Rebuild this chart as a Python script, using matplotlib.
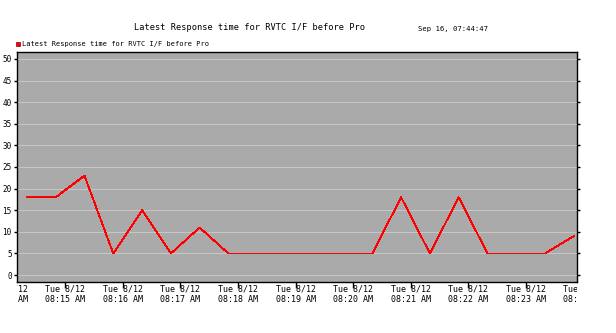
import numpy as np
import pandas as pd
import matplotlib
matplotlib.use("Agg")
import matplotlib.pyplot as plt
import matplotlib.dates as mdates
from matplotlib.patches import Patch
from matplotlib.transforms import Bbox, TransformedBbox


title = "Latest Response time for RVTC I/F before Pro"
stamp = "Sep 16, 07:44:47"
series_name = "Latest Response time for RVTC I/F before Pro"

times = ["08:14:20", "08:14:50", "08:15:20", "08:15:50", "08:16:20",
         "08:16:50", "08:17:20", "08:17:50", "08:18:20", "08:18:50",
         "08:19:20", "08:19:50", "08:20:20", "08:20:50", "08:21:20",
         "08:21:50", "08:22:20", "08:22:50", "08:23:20", "08:23:50"]
values = [18, 18, 23, 5, 15, 5, 11, 5, 5, 5,
          5, 5, 5, 18, 5, 18, 5, 5, 5, 9]

tick_times = ["08:14", "08:15", "08:16", "08:17", "08:18", "08:19",
              "08:20", "08:21", "08:22", "08:23", "08:24"]
tick_labels = ["Tue 8/12\n%s AM" % t for t in tick_times]
yticks = [0, 5, 10, 15, 20, 25, 30, 35, 40, 45, 50]

day = "2014-08-12 "
x = pd.to_datetime([day + t for t in times])
xt = pd.to_datetime([day + t for t in tick_times])

mono = "DejaVu Sans Mono"

fig = plt.figure(figsize=(6.16, 3.33), dpi=100)
left, right = 17.3 / 616, 576.7 / 616
bottom, top = 1 - 282 / 333, 1 - 52 / 333
ax = fig.add_axes([left, bottom, right - left, top - bottom])
ax.set_facecolor("#aaaaaa")

ax.plot(x, values, color="#ff0000", lw=0.6, antialiased=False)

ax.set_xlim(pd.Timestamp(day + "08:14:10"), pd.Timestamp(day + "08:23:53"))
ax.set_ylim(-1.6, 51.6)

ax.set_yticks(yticks)
ax.yaxis.grid(True, color="#cccccc", lw=0.6)
ax.set_axisbelow(True)
ax.tick_params(axis="y", which="both", left=True, right=True, direction="out",
               length=2.5, width=1, pad=1.5, labelsize=5.5, labelfontfamily=mono)

inside = [t for t in xt if ax.get_xlim()[0] <= mdates.date2num(t) <= ax.get_xlim()[1]]
ax.set_xticks(inside)
ax.tick_params(axis="x", direction="out", length=4, width=1, labelbottom=False)

# edge labels are cut at the plot's left and right borders, as in the source chart
clip = TransformedBbox(Bbox.from_extents(left, 0, right, 1), fig.transFigure)
for t, lab in zip(xt, tick_labels):
    txt = ax.annotate(lab, xy=(t, 0), xycoords=("data", "axes fraction"),
                      xytext=(0, -1.5), textcoords="offset points",
                      ha="center", va="top", fontsize=6, family=mono,
                      linespacing=1.25, annotation_clip=False)
    txt.set_clip_on(True)
    txt.set_clip_box(clip)

for s in ax.spines.values():
    s.set_color("black")
    s.set_linewidth(1)

fig.text(250 / 616, 1 - 27 / 333, title, ha="center", va="center",
         fontsize=6.2, family=mono)
fig.text(453 / 616, 1 - 29 / 333, stamp, ha="center", va="center",
         fontsize=5.2, family=mono)

handle = Patch(facecolor="#ff0000", edgecolor="#880000", lw=0.5)
ax.legend([handle], [series_name], loc="lower left", bbox_to_anchor=(-0.005, 1.015),
          frameon=False, handlelength=0.6, handleheight=0.6, handletextpad=0.3,
          borderaxespad=0.1, borderpad=0.1, prop={"family": mono, "size": 5.0})

fig.savefig("out.png", dpi=100)
